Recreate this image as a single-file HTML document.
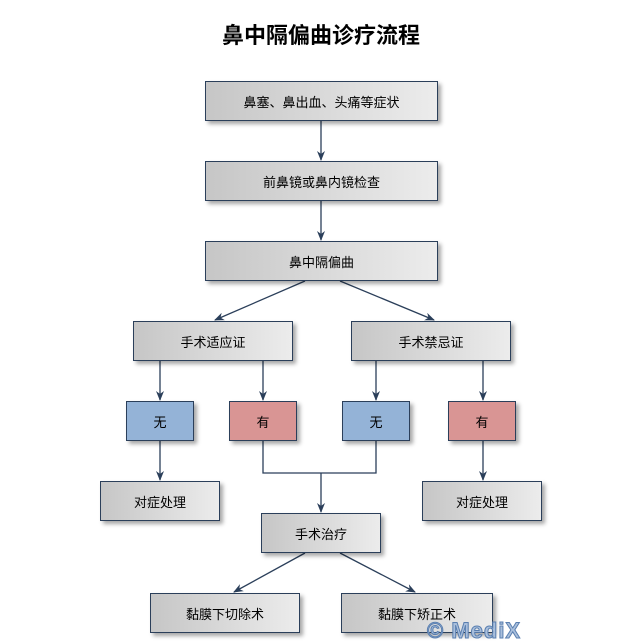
<!DOCTYPE html><html><head><meta charset="utf-8"><style>
body{margin:0;width:642px;height:642px;background:#fff;position:relative;overflow:hidden;font-family:"Liberation Sans","Noto Sans CJK SC",sans-serif}
.b{position:absolute;box-sizing:border-box;border:1px solid #2b3f5a;background:linear-gradient(90deg,#c6c6c6,#ececec);display:flex;align-items:center;justify-content:center;font-size:13px;color:#000;box-shadow:3px 3px 4px rgba(0,0,0,.35)}
.bl{background:#94b3d7}.rd{background:#d99594}
svg{position:absolute;left:0;top:0}
</style></head><body>
<div style="position:absolute;left:0;width:642px;top:18px;text-align:center;font-size:22px;font-weight:bold">鼻中隔偏曲诊疗流程</div>
<svg width="642" height="642"><defs><marker id="a" markerWidth="10" markerHeight="10" refX="9" refY="5" orient="auto" markerUnits="userSpaceOnUse"><path d="M0,1L10,5L0,9L3,5z" fill="#2b3f5a"/></marker></defs>
<g stroke="#2b3f5a" stroke-width="1.3" fill="none">
<line x1="321" y1="121" x2="321" y2="160" marker-end="url(#a)"/>
<line x1="321" y1="201" x2="321" y2="240" marker-end="url(#a)"/>
<line x1="305" y1="281" x2="215" y2="320" marker-end="url(#a)"/>
<line x1="340" y1="281" x2="434" y2="320" marker-end="url(#a)"/>
<line x1="160" y1="361" x2="160" y2="400" marker-end="url(#a)"/>
<line x1="263" y1="361" x2="263" y2="400" marker-end="url(#a)"/>
<line x1="376" y1="361" x2="376" y2="400" marker-end="url(#a)"/>
<line x1="483" y1="361" x2="483" y2="400" marker-end="url(#a)"/>
<line x1="160" y1="441" x2="160" y2="480" marker-end="url(#a)"/>
<line x1="483" y1="441" x2="483" y2="480" marker-end="url(#a)"/>
<polyline points="263,441 263,473 376,473 376,441"/>
<line x1="321" y1="473" x2="321" y2="512" marker-end="url(#a)"/>
<line x1="305" y1="553" x2="234" y2="592" marker-end="url(#a)"/>
<line x1="340" y1="553" x2="415" y2="592" marker-end="url(#a)"/>
</g></svg>
<div class="b" style="left:205px;top:81px;width:233px;height:40px">鼻塞、鼻出血、头痛等症状</div>
<div class="b" style="left:205px;top:161px;width:233px;height:40px">前鼻镜或鼻内镜检查</div>
<div class="b" style="left:205px;top:241px;width:233px;height:40px">鼻中隔偏曲</div>
<div class="b" style="left:133px;top:321px;width:160px;height:40px">手术适应证</div>
<div class="b" style="left:351px;top:321px;width:160px;height:40px">手术禁忌证</div>
<div class="b bl" style="left:126px;top:401px;width:68px;height:40px">无</div>
<div class="b rd" style="left:229px;top:401px;width:68px;height:40px">有</div>
<div class="b bl" style="left:342px;top:401px;width:68px;height:40px">无</div>
<div class="b rd" style="left:448px;top:401px;width:68px;height:40px">有</div>
<div class="b" style="left:100px;top:481px;width:120px;height:40px">对症处理</div>
<div class="b" style="left:422px;top:481px;width:120px;height:40px">对症处理</div>
<div class="b" style="left:261px;top:513px;width:120px;height:40px">手术治疗</div>
<div class="b" style="left:150px;top:593px;width:150px;height:40px">黏膜下切除术</div>
<div class="b" style="left:341px;top:593px;width:152px;height:40px">黏膜下矫正术</div>
<div style="position:absolute;left:427px;top:618px;font-size:22px;font-weight:bold;color:#a9bfdc;-webkit-text-stroke:1px #5a7fb0;letter-spacing:1px">© MediX</div>
</body></html>
